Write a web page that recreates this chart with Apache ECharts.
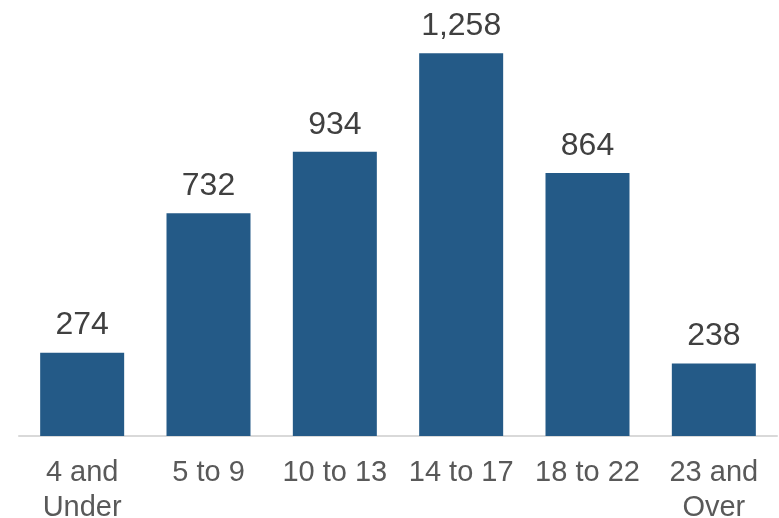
<!DOCTYPE html>
<html><head><meta charset="utf-8">
<script src="https://cdn.jsdelivr.net/npm/echarts@6/dist/echarts.min.js"></script>
<style>html,body{margin:0;padding:0;background:#fff;overflow:hidden}#c{width:779px;height:518px}</style>
</head><body><div id="c"></div>
<script>
const categories = ['4 and\nUnder', '5 to 9', '10 to 13', '14 to 17', '18 to 22', '23 and\nOver'];
const values = [274, 732, 934, 1258, 864, 238];

const chart = echarts.init(document.getElementById('c'), null, {renderer: 'canvas'});
chart.setOption({
  animation: false,
  grid: {left: 19, right: 2, top: 10, bottom: 82, containLabel: false, outerBoundsMode: 'none'},
  xAxis: {
    type: 'category',
    data: categories,
    axisLine: {show: true, lineStyle: {color: '#d9d9d9', width: 2}},
    axisTick: {show: false},
    axisLabel: {
      color: '#595959', fontFamily: 'Liberation Sans, Arial, sans-serif',
      fontSize: 29, lineHeight: 35, margin: 19, interval: 0
    }
  },
  yAxis: {
    type: 'value', min: 0, max: 1400,
    show: false, splitLine: {show: false}
  },
  series: [{
    type: 'bar',
    data: values,
    barWidth: 84,
    itemStyle: {color: '#245A87'},
    label: {
      show: true, position: 'top', distance: 11,
      color: '#404040', fontSize: 32,
      fontFamily: 'Liberation Sans, Arial, sans-serif',
      formatter: p => p.value.toLocaleString('en-US')
    }
  }]
});
</script></body></html>
